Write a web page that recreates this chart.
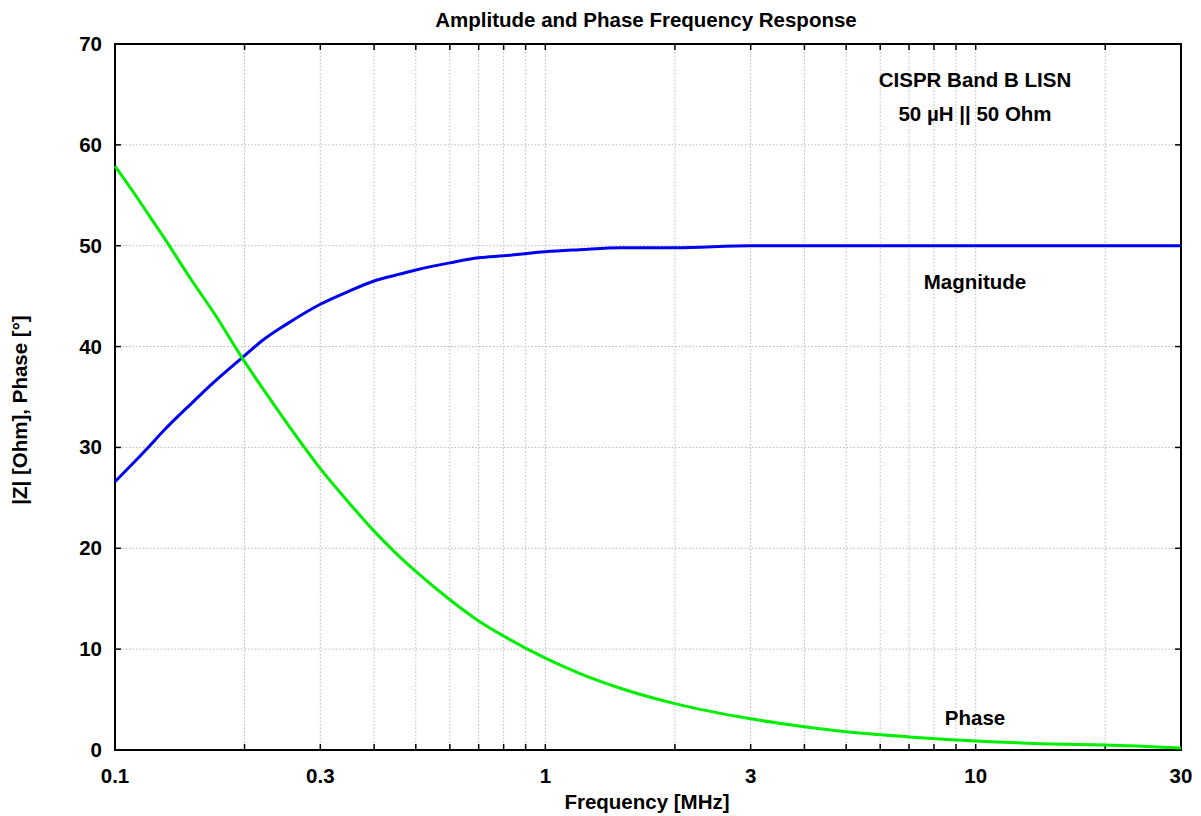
<!DOCTYPE html>
<html>
<head>
<meta charset="utf-8">
<script src="https://cdn.jsdelivr.net/npm/d3@7"></script>
<style>
  body { margin: 0; background: #fff; }
  text { font-family: "Liberation Sans", Arial, sans-serif; font-weight: bold; }
</style>
</head>
<body>
<div id="chart"></div>
<script>
// frequencies in MHz and values
const freqs = [0.1, 0.11, 0.12, 0.13, 0.15, 0.17, 0.2, 0.22, 0.25, 0.3, 0.35, 0.4, 0.45, 0.5, 0.6, 0.7, 0.8, 1, 1.2, 1.5, 2, 3, 4, 5, 7, 10, 15, 20, 30];
const magnitude = [26.6, 28.4, 30.1, 31.7, 34.3, 36.5, 39.1, 40.6, 42.2, 44.2, 45.5, 46.5, 47.1, 47.6, 48.3, 48.8, 49.0, 49.4, 49.6, 49.8, 49.8, 50.0, 50.0, 50.0, 50.0, 50.0, 50.0, 50.0, 50.0];
const phase = [57.9, 55.4, 53.0, 50.8, 46.7, 43.3, 38.5, 35.9, 32.5, 27.9, 24.5, 21.7, 19.5, 17.7, 14.9, 12.8, 11.3, 9.1, 7.6, 6.1, 4.6, 3.1, 2.3, 1.8, 1.3, 0.9, 0.6, 0.5, 0.2];
const xTickLabels = [0.1, 0.3, 1, 3, 10, 30];
const xGrid = [0.2, 0.3, 0.4, 0.5, 0.6, 0.7, 0.8, 0.9, 1, 2, 3, 4, 5, 6, 7, 8, 9, 10, 20];
const yTicks = [0, 10, 20, 30, 40, 50, 60, 70];

const width = 1201;
const height = 816;
const margin = { top: 44, right: 20, bottom: 66, left: 115 };
const fs = 20.5;

const svg = d3
  .select("#chart")
  .append("svg")
  .attr("width", width)
  .attr("height", height);

const x = d3
  .scaleLog()
  .domain([0.1, 30])
  .range([margin.left, width - margin.right]);

const y = d3
  .scaleLinear()
  .domain([0, 70])
  .range([height - margin.bottom, margin.top]);

// grid
svg
  .selectAll(".vgrid")
  .data(xGrid)
  .enter()
  .append("line")
  .attr("class", "vgrid")
  .attr("x1", (d) => x(d))
  .attr("x2", (d) => x(d))
  .attr("y1", y(0))
  .attr("y2", y(70))
  .attr("stroke", "#b8b8b8")
  .attr("stroke-width", 1)
  .attr("stroke-dasharray", "1.5,2");

svg
  .selectAll(".hgrid")
  .data(yTicks.slice(1, -1))
  .enter()
  .append("line")
  .attr("class", "hgrid")
  .attr("x1", x(0.1))
  .attr("x2", x(30))
  .attr("y1", (d) => y(d))
  .attr("y2", (d) => y(d))
  .attr("stroke", "#b8b8b8")
  .attr("stroke-width", 1)
  .attr("stroke-dasharray", "1.5,2");

// inward ticks on all four sides
const tickLen = 6;
const allX = [0.1].concat(xGrid, [30]);
svg
  .selectAll(".xtb")
  .data(allX)
  .enter()
  .append("line")
  .attr("x1", (d) => x(d))
  .attr("x2", (d) => x(d))
  .attr("y1", y(0))
  .attr("y2", y(0) - tickLen)
  .attr("stroke", "#000")
  .attr("stroke-width", 1.5);
svg
  .selectAll(".xtt")
  .data(allX)
  .enter()
  .append("line")
  .attr("x1", (d) => x(d))
  .attr("x2", (d) => x(d))
  .attr("y1", y(70))
  .attr("y2", y(70) + tickLen)
  .attr("stroke", "#000")
  .attr("stroke-width", 1.5);
svg
  .selectAll(".ytl")
  .data(yTicks)
  .enter()
  .append("line")
  .attr("x1", x(0.1))
  .attr("x2", x(0.1) + tickLen)
  .attr("y1", (d) => y(d))
  .attr("y2", (d) => y(d))
  .attr("stroke", "#000")
  .attr("stroke-width", 1.5);
svg
  .selectAll(".ytr")
  .data(yTicks)
  .enter()
  .append("line")
  .attr("x1", x(30))
  .attr("x2", x(30) - tickLen)
  .attr("y1", (d) => y(d))
  .attr("y2", (d) => y(d))
  .attr("stroke", "#000")
  .attr("stroke-width", 1.5);

// frame
svg
  .append("rect")
  .attr("x", x(0.1))
  .attr("y", y(70))
  .attr("width", x(30) - x(0.1))
  .attr("height", y(0) - y(70))
  .attr("fill", "none")
  .attr("stroke", "#000")
  .attr("stroke-width", 2);

// tick labels
svg
  .selectAll(".xlab")
  .data(xTickLabels)
  .enter()
  .append("text")
  .attr("x", (d) => x(d))
  .attr("y", y(0) + 33)
  .attr("text-anchor", "middle")
  .attr("font-size", fs)
  .text((d) => d);

svg
  .selectAll(".ylab")
  .data(yTicks)
  .enter()
  .append("text")
  .attr("x", x(0.1) - 13)
  .attr("y", (d) => y(d) + 7)
  .attr("text-anchor", "end")
  .attr("font-size", fs)
  .text((d) => d);

// curves
const line = d3
  .line()
  .x((d) => x(d[0]))
  .y((d) => y(d[1]))
  .curve(d3.curveMonotoneX);

svg
  .append("path")
  .datum(d3.zip(freqs, magnitude))
  .attr("fill", "none")
  .attr("stroke", "#0000ee")
  .attr("stroke-width", 3)
  .attr("stroke-linejoin", "round")
  .attr("d", line);

svg
  .append("path")
  .datum(d3.zip(freqs, phase))
  .attr("fill", "none")
  .attr("stroke", "#00ee00")
  .attr("stroke-width", 3)
  .attr("stroke-linejoin", "round")
  .attr("d", line);

// titles and annotations
svg
  .append("text")
  .attr("x", 646)
  .attr("y", 27)
  .attr("text-anchor", "middle")
  .attr("font-size", fs)
  .text("Amplitude and Phase Frequency Response");

svg
  .append("text")
  .attr("x", 647)
  .attr("y", 809)
  .attr("text-anchor", "middle")
  .attr("font-size", fs)
  .text("Frequency [MHz]");

svg
  .append("text")
  .attr("transform", "translate(27,410) rotate(-90)")
  .attr("text-anchor", "middle")
  .attr("font-size", fs)
  .text("|Z| [Ohm], Phase [°]");

svg
  .append("text")
  .attr("x", 975)
  .attr("y", 87)
  .attr("text-anchor", "middle")
  .attr("font-size", fs)
  .text("CISPR Band B LISN");

svg
  .append("text")
  .attr("x", 975)
  .attr("y", 121)
  .attr("text-anchor", "middle")
  .attr("font-size", fs)
  .text("50 µH || 50 Ohm");

svg
  .append("text")
  .attr("x", 975)
  .attr("y", 289)
  .attr("text-anchor", "middle")
  .attr("font-size", fs)
  .text("Magnitude");

svg
  .append("text")
  .attr("x", 975)
  .attr("y", 725)
  .attr("text-anchor", "middle")
  .attr("font-size", fs)
  .text("Phase");
</script>
</body>
</html>
